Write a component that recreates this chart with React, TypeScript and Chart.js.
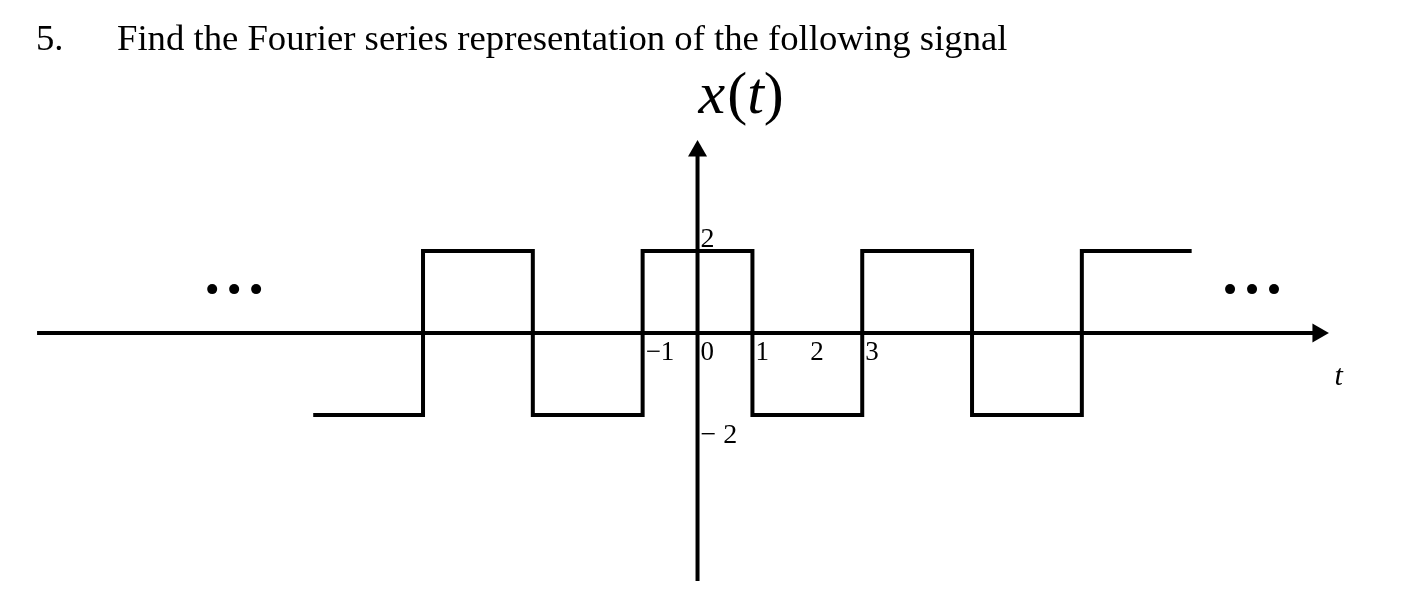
import React, { useEffect, useRef } from "react";
import { Chart, registerables } from "chart.js";

Chart.register(...registerables);

// ---- data ----
const WAVE_T = [-7, -5, -3, -1, 1, 3, 5, 7, 9];
const WAVE_X = [-2, 2, -2, 2, -2, 2, -2, 2, 2];
const T_TICKS = [-1, 0, 1, 2, 3];
const T_TICK_LABELS = ["\u22121", "0", "1", "2", "3"];
const X_TICKS = [2, -2];
const X_TICK_LABELS = ["2", "\u2212 2"];
const T_AXIS_RANGE = [-12.03, 11.3];
const X_AXIS_RANGE = [-6.05, 4.44];
const DOTS_LEFT_T = [-8.84, -8.44, -8.04];
const DOTS_RIGHT_T = [9.7, 10.1, 10.5];
const DOTS_X = 1.07;
const TITLE_NUM = "5.";
const TITLE_TEXT = "Find the Fourier series representation of the following signal";
const T_MIN = -12.705;
const T_MAX = 13.05;
const X_MIN = -6.854;
const X_MAX = 8.122;

const SERIF = '"Liberation Serif", "Times New Roman", serif';

const textPlugin = {
  id: "signalTexts",
  afterDatasetsDraw(chart: any) {
    const { ctx } = chart;
    const xs = chart.scales.x;
    const ys = chart.scales.y;
    const px = (v: number) => xs.getPixelForValue(v);
    const py = (v: number) => ys.getPixelForValue(v);
    ctx.save();
    ctx.fillStyle = "#000";
    ctx.textAlign = "left";
    ctx.textBaseline = "alphabetic";

    // title
    ctx.font = `36.7px ${SERIF}`;
    ctx.fillText(TITLE_NUM, 36, 50);
    ctx.fillText(TITLE_TEXT, 117, 50);

    // t tick labels
    ctx.font = `27px ${SERIF}`;
    T_TICKS.forEach((t, i) => {
      ctx.fillText(T_TICK_LABELS[i], px(t) + 3, py(0) + 27);
    });

    // x tick labels
    ctx.font = `28px ${SERIF}`;
    ctx.fillText(X_TICK_LABELS[0], px(0) + 3, py(X_TICKS[0]) - 4);
    ctx.fillText(X_TICK_LABELS[1], px(0) + 3, py(X_TICKS[1]) + 28);

    // axis names
    ctx.font = `italic 30px ${SERIF}`;
    ctx.fillText("t", px(11.6), py(-1.28));

    // x(t)
    let cx = px(0) + 1;
    const by = py(5.36);
    const parts: [string, boolean][] = [["x", true], ["(", false], ["t", true], [")", false]];
    parts.forEach(([s, it]) => {
      ctx.font = `${it ? "italic " : ""}60px ${SERIF}`;
      ctx.fillText(s, cx, by);
      cx += ctx.measureText(s).width + (s === "x" ? 2 : 0);
    });
    ctx.restore();
  },
};

export default function App() {
  const ref = useRef<HTMLCanvasElement | null>(null);

  useEffect(() => {
    if (!ref.current) return;
    const black = "#000";
    const chart = new Chart(ref.current, {
      type: "scatter",
      data: {
        datasets: [
          {
            label: "x axis",
            data: T_AXIS_RANGE.map((t) => ({ x: t, y: 0 })),
            showLine: true,
            borderColor: black,
            borderWidth: 4,
            pointRadius: 0,
            borderCapStyle: "butt",
          },
          {
            label: "y axis",
            data: X_AXIS_RANGE.map((v) => ({ x: 0, y: v })),
            showLine: true,
            borderColor: black,
            borderWidth: 4,
            pointRadius: 0,
            borderCapStyle: "butt",
          },
          {
            label: "t arrow",
            data: [{ x: T_AXIS_RANGE[1], y: 0 }],
            pointStyle: "triangle",
            pointRadius: 11,
            pointRotation: 90,
            pointBackgroundColor: black,
            pointBorderColor: black,
            pointBorderWidth: 0,
          },
          {
            label: "x arrow",
            data: [{ x: 0, y: X_AXIS_RANGE[1] }],
            pointStyle: "triangle",
            pointRadius: 11,
            pointRotation: 0,
            pointBackgroundColor: black,
            pointBorderColor: black,
            pointBorderWidth: 0,
          },
          {
            label: "x(t)",
            data: WAVE_T.map((t, i) => ({ x: t, y: WAVE_X[i] })),
            showLine: true,
            stepped: "before",
            borderColor: black,
            borderWidth: 4,
            pointRadius: 0,
            borderJoinStyle: "miter",
            borderCapStyle: "butt",
          },
          {
            label: "dots",
            data: [...DOTS_LEFT_T, ...DOTS_RIGHT_T].map((t) => ({ x: t, y: DOTS_X })),
            pointStyle: "circle",
            pointRadius: 5,
            pointBackgroundColor: black,
            pointBorderWidth: 0,
          },
        ],
      } as any,
      options: {
        animation: false,
        responsive: false,
        devicePixelRatio: 1,
        layout: { padding: 0, autoPadding: false },
        events: [],
        plugins: {
          legend: { display: false },
          tooltip: { enabled: false },
          title: { display: false },
        },
        scales: {
          x: { type: "linear", display: false, min: T_MIN, max: T_MAX },
          y: { type: "linear", display: false, min: X_MIN, max: X_MAX },
        },
      } as any,
      plugins: [textPlugin],
    });
    return () => chart.destroy();
  }, []);

  return (
    <div style={{ position: "fixed", left: 0, top: 0, width: 1414, height: 614, background: "#fff" }}>
      <canvas ref={ref} width={1414} height={614} style={{ display: "block" }} />
    </div>
  );
}
